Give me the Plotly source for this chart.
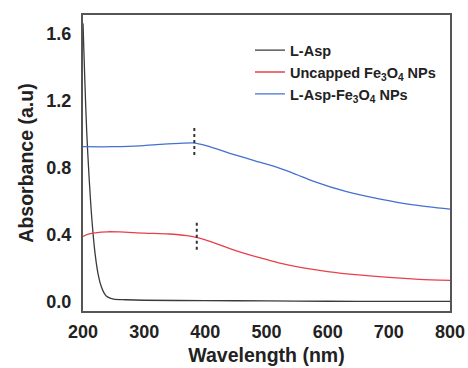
import plotly.graph_objects as go

# L-Asp
wl_asp = [200, 203, 206, 210, 215, 220, 225, 230, 235, 240, 250, 270, 300, 400, 500, 600, 700, 800]
abs_asp = [1.66, 1.32, 1.02, 0.74, 0.47, 0.28, 0.16, 0.09, 0.05, 0.03, 0.017, 0.013, 0.01, 0.008, 0.006, 0.004, 0.003, 0.003]

# Uncapped Fe3O4 NPs
wl_unc = [200, 210, 220, 240, 260, 300, 340, 370, 385, 400, 420, 440, 460, 490, 520, 560, 600, 650, 700, 750, 800]
abs_unc = [0.39, 0.405, 0.412, 0.418, 0.417, 0.41, 0.405, 0.395, 0.385, 0.37, 0.345, 0.318, 0.294, 0.262, 0.233, 0.203, 0.181, 0.161, 0.146, 0.135, 0.128]

# L-Asp-Fe3O4 NPs
wl_cap = [200, 250, 293, 320, 358, 383, 400, 420, 440, 480, 522, 550, 576, 631, 686, 740, 800]
abs_cap = [0.925, 0.925, 0.93, 0.938, 0.945, 0.947, 0.933, 0.91, 0.886, 0.842, 0.796, 0.758, 0.72, 0.657, 0.613, 0.578, 0.553]

# dotted peak markers
mark_cap_x = [382, 382]
mark_cap_y = [1.036, 0.863]
mark_unc_x = [386, 386]
mark_unc_y = [0.472, 0.30]

names = ["L-Asp", "Uncapped Fe<sub>3</sub>O<sub>4</sub> NPs", "L-Asp-Fe<sub>3</sub>O<sub>4</sub> NPs"]
x_ticks = [200, 300, 400, 500, 600, 700, 800]
y_ticks = [0.0, 0.4, 0.8, 1.2, 1.6]
y_tick_text = ["0.0", "0.4", "0.8", "1.2", "1.6"]

font = "Arial, 'Liberation Sans', sans-serif"

fig = go.Figure()
fig.add_trace(go.Scatter(x=wl_asp, y=abs_asp, mode="lines", name=names[0],
                         line=dict(color="#3a3a3a", width=1.3, shape="spline", smoothing=0.8)))
fig.add_trace(go.Scatter(x=wl_unc, y=abs_unc, mode="lines", name=names[1],
                         line=dict(color="#e8404a", width=1.3, shape="spline", smoothing=0.8)))
fig.add_trace(go.Scatter(x=wl_cap, y=abs_cap, mode="lines", name=names[2],
                         line=dict(color="#4570d0", width=1.3, shape="spline", smoothing=0.8)))
fig.add_trace(go.Scatter(x=mark_cap_x, y=mark_cap_y, mode="lines", showlegend=False,
                         line=dict(color="#333333", width=2, dash="dot")))
fig.add_trace(go.Scatter(x=mark_unc_x, y=mark_unc_y, mode="lines", showlegend=False,
                         line=dict(color="#333333", width=2, dash="dot")))

fig.update_layout(
    width=468, height=368,
    margin=dict(l=83, r=18, t=15, b=57),
    paper_bgcolor="white", plot_bgcolor="white",
    font=dict(family=font, color="#222222"),
    legend=dict(x=0.455, y=0.935, xanchor="left", yanchor="top",
                bgcolor="rgba(0,0,0,0)", font=dict(size=14.5, family=font, weight="bold"),
                tracegroupgap=0, itemwidth=30),
    showlegend=True,
)
fig.update_xaxes(range=[200, 800], tickvals=x_ticks, ticks="", showgrid=False, zeroline=False,
                 showline=True, linecolor="#555555", linewidth=2, mirror=True,
                 ticklabelstandoff=3, automargin=False,
                 tickfont=dict(size=18, family=font, weight="bold"),
                 title=dict(text="<b>Wavelength (nm)</b>", font=dict(size=19.5, family=font), standoff=8))
fig.update_yaxes(range=[-0.054, 1.71], tickvals=y_ticks, ticktext=y_tick_text, ticks="", showgrid=False,
                 zeroline=False, showline=True, linecolor="#555555", linewidth=2, mirror=True,
                 ticklabelstandoff=6, automargin=False,
                 tickfont=dict(size=18, family=font, weight="bold"),
                 title=dict(text="<b>Absorbance (a.u)</b>", font=dict(size=19.5, family=font), standoff=8))

fig.write_html("out.html")
